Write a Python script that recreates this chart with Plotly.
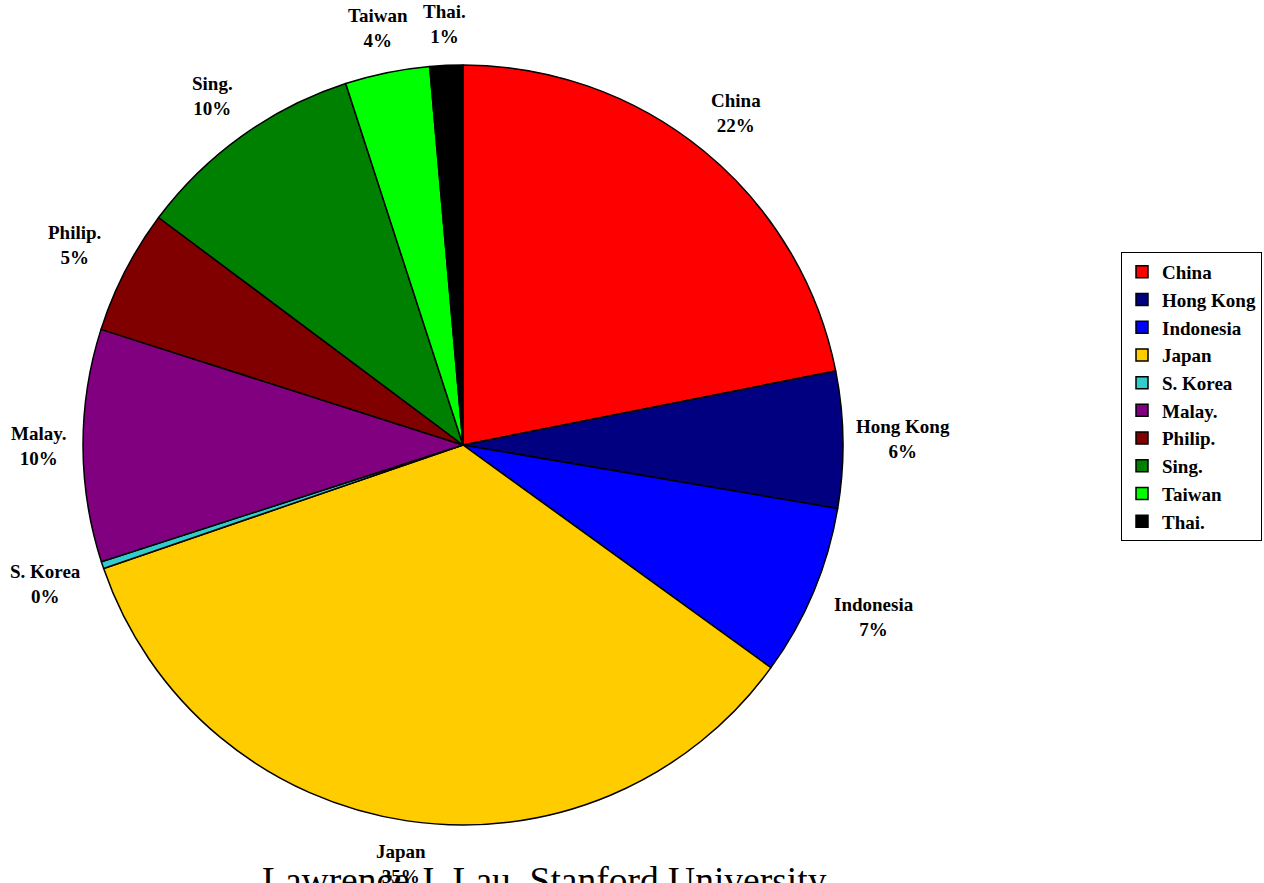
import math
import plotly.graph_objects as go

countries = ["China", "Hong Kong", "Indonesia", "Japan", "S. Korea",
             "Malay.", "Philip.", "Sing.", "Taiwan", "Thai."]
shares = [21.9, 5.8, 7.3, 34.8, 0.3, 9.9, 5.3, 9.8, 3.6, 1.4]
colors = ["#FF0000", "#000080", "#0000FF", "#FFCC00", "#33CCCC",
          "#800080", "#800000", "#008000", "#00FF00", "#000000"]

W, H = 1264, 883
cx, cy, r = 463, 445, 380
LABEL_FONT = 19
FONT = "Liberation Serif"

fig = go.Figure(go.Pie(
    labels=countries,
    values=shares,
    sort=False,
    direction="clockwise",
    rotation=0,
    marker=dict(colors=colors, line=dict(color="black", width=1.5)),
    textinfo="none",
    domain=dict(x=[(cx - r) / W, (cx + r) / W], y=[(H - cy - r) / H, (H - cy + r) / H]),
    automargin=False,
    hoverinfo="label+percent",
))

# data labels placed outside each slice (Excel style), derived from the values
total = sum(shares)
annotations = []
cum = 0.0
for name, v in zip(countries, shares):
    mid = math.radians((cum + v / 2) / total * 360)
    cum += v
    hw = len(name) * LABEL_FONT * 0.52 / 2
    hh = 25
    dist = r + 15 + abs(math.sin(mid)) * hw + abs(math.cos(mid)) * hh
    px = cx + dist * math.sin(mid)
    py = cy - dist * math.cos(mid)
    pct = round(v / total * 100)
    annotations.append(dict(
        text=f"{name}<br>{pct}%",
        x=px / W, y=1 - py / H, xref="paper", yref="paper",
        xanchor="center", yanchor="middle", showarrow=False,
        font=dict(family=FONT, size=LABEL_FONT, color="black", weight="bold"),
    ))

annotations.append(dict(
    text="Lawrence J. Lau, Stanford University",
    x=544 / W, y=-20 / H, xref="paper", yref="paper",
    xanchor="center", yanchor="bottom",
    showarrow=False,
    font=dict(family=FONT, size=37.5, color="black"),
))

fig.update_layout(
    width=W, height=H,
    margin=dict(l=0, r=0, t=0, b=0),
    paper_bgcolor="white",
    plot_bgcolor="white",
    showlegend=True,
    legend=dict(
        x=1121 / W, y=(H - 252) / H, xanchor="left", yanchor="top",
        bordercolor="black", borderwidth=1,
        font=dict(family=FONT, size=19, color="black", weight="bold"),
        itemwidth=30,
        bgcolor="white",
    ),
    annotations=annotations,
)

fig.write_html("out.html")
